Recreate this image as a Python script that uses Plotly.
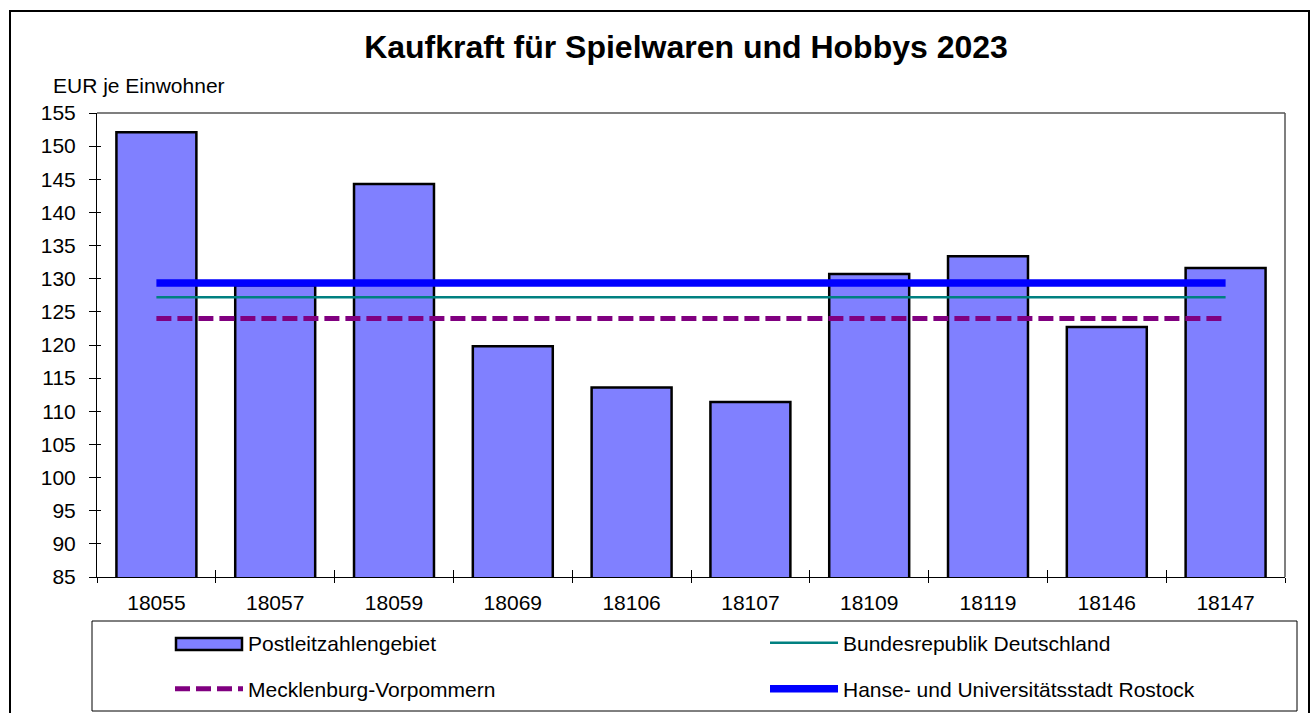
import plotly.graph_objects as go

categories = ["18055", "18057", "18059", "18069", "18106", "18107", "18109", "18119", "18146", "18147"]
plz_values = [152.1, 129.0, 144.3, 119.8, 113.6, 111.4, 130.7, 133.4, 122.7, 131.6]
brd_value = 127.2
mv_value = 124.0
rostock_value = 129.35

W, H = 1312, 713
L, R, T, B = 97, 1285, 113, 577
pw, ph = R - L, B - T

def px(x):
    return (x - L) / pw

def py(y):
    return (B - y) / ph

font = "Liberation Sans, Arial, sans-serif"
FS = 21
BAR_COLOR = "#8080FF"

fig = go.Figure()
fig.add_trace(go.Bar(
    x=categories, y=plz_values, name="Postleitzahlengebiet",
    marker=dict(color=BAR_COLOR, line=dict(color="black", width=2.5)),
    showlegend=False,
))
# legend entry for the bars (its wide box symbol is drawn as a shape below)
fig.add_trace(go.Scatter(
    x=[None], y=[None], mode="lines", name="Postleitzahlengebiet",
    line=dict(color="rgba(0,0,0,0)", width=1), legend="legend", hoverinfo="skip",
))
fig.add_trace(go.Scatter(
    x=categories, y=[brd_value] * len(categories), mode="lines",
    name="Bundesrepublik Deutschland", line=dict(color="#008080", width=2.5),
    legend="legend2",
))
fig.add_trace(go.Scatter(
    x=categories, y=[mv_value] * len(categories), mode="lines",
    name="Mecklenburg-Vorpommern",
    line=dict(color="#800080", width=5, dash="15px,6px"),
    legend="legend3",
))
fig.add_trace(go.Scatter(
    x=categories, y=[rostock_value] * len(categories), mode="lines",
    name="Hanse- und Universitätsstadt Rostock", line=dict(color="#0000FF", width=7.5),
    legend="legend4",
))
# invisible helper trace on overlay axes for the inner half of the crossing ticks
fig.add_trace(go.Scatter(
    x=categories, y=plz_values, xaxis="x2", yaxis="y2", mode="markers",
    marker=dict(opacity=0), showlegend=False, hoverinfo="skip",
))

legend_common = dict(
    orientation="h", xanchor="left", yanchor="middle",
    bgcolor="rgba(0,0,0,0)", borderwidth=0,
    font=dict(family=font, size=FS, color="black"),
    itemwidth=68,
)

tickfont = dict(family=font, size=FS, color="black")

fig.update_layout(
    width=W, height=H,
    margin=dict(l=L, r=W - R, t=T, b=H - B, autoexpand=False),
    paper_bgcolor="white", plot_bgcolor="white",
    bargap=0.327,
    showlegend=True,
    title=dict(
        text="<b>Kaufkraft für Spielwaren und Hobbys 2023</b>",
        font=dict(family=font, size=32, color="black"),
        x=px(686), xref="paper", xanchor="center",
        y=1 - 47 / H, yref="container", yanchor="middle",
    ),
    legend=dict(x=px(170), y=py(643), **legend_common),
    legend2=dict(x=px(765), y=py(643), **legend_common),
    legend3=dict(x=px(170), y=py(689), **legend_common),
    legend4=dict(x=px(765), y=py(689), **legend_common),
    xaxis=dict(
        type="category", range=[-0.5, 9.5], showline=True, linecolor="black",
        linewidth=1, ticks="outside", tickson="boundaries", ticklen=5,
        tickcolor="black", tickfont=tickfont, automargin=False,
        showgrid=False, zeroline=False, ticklabelstandoff=7,
    ),
    yaxis=dict(
        range=[85, 155], dtick=5, tick0=85, showline=True, linecolor="black",
        linewidth=1, ticks="outside", ticklen=7, tickcolor="black", automargin=False,
        tickfont=tickfont, showgrid=False, zeroline=False, ticklabelstandoff=9,
    ),
    xaxis2=dict(
        type="category", range=[-0.5, 9.5], overlaying="x", anchor="y2",
        side="bottom", ticks="inside", tickson="boundaries", ticklen=7,
        tickcolor="black", showticklabels=False, showline=False,
        showgrid=False, zeroline=False, automargin=False,
    ),
    yaxis2=dict(
        range=[85, 155], dtick=5, tick0=85, overlaying="y", anchor="x2",
        side="left", ticks="inside", ticklen=4, tickcolor="black",
        showticklabels=False, showline=False, showgrid=False, zeroline=False,
        automargin=False,
    ),
    annotations=[dict(
        text="EUR je Einwohner", xref="paper", yref="paper",
        x=px(51), y=py(85), xanchor="left", yanchor="middle", showarrow=False,
        font=dict(family=font, size=FS, color="black"),
    )],
    shapes=[
        # plot area top/right border
        dict(type="line", xref="paper", yref="paper", x0=0, x1=1, y0=1, y1=1,
             line=dict(color="#555555", width=1.5)),
        dict(type="line", xref="paper", yref="paper", x0=1, x1=1, y0=0, y1=1,
             line=dict(color="#555555", width=1.5)),
        # legend box
        dict(type="rect", xref="paper", yref="paper", x0=px(92), x1=px(1297),
             y0=py(711), y1=py(621), line=dict(color="black", width=1)),
        # legend symbol for the bars
        dict(type="rect", xref="paper", yref="paper", x0=px(176), x1=px(242),
             y0=py(650), y1=py(638), fillcolor=BAR_COLOR,
             line=dict(color="black", width=2.5)),
        # outer chart border
        dict(type="rect", xref="paper", yref="paper", x0=px(10), x1=px(1309),
             y0=py(740), y1=py(11), line=dict(color="black", width=2)),
    ],
)

fig.write_html(
    "out.html",
    config={"displayModeBar": False},
    post_script="document.body.style.margin='0px';document.body.style.overflow='hidden';",
)
